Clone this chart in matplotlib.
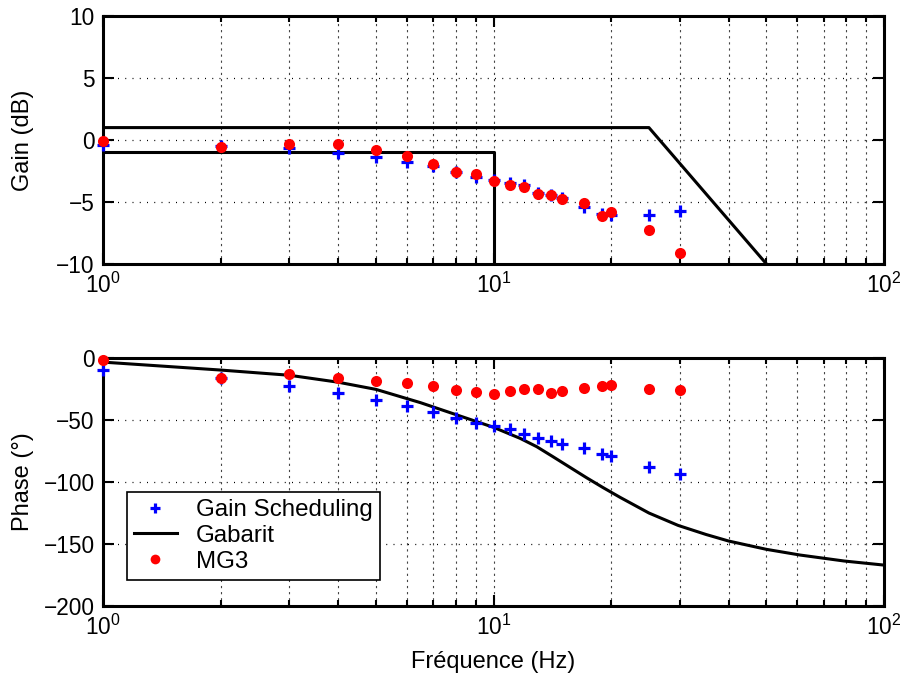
import numpy as np
import matplotlib
matplotlib.use("Agg")
import matplotlib.pyplot as plt
from matplotlib.ticker import LogLocator

plt.rcParams['font.family'] = ['Liberation Sans', 'DejaVu Sans']
plt.rcParams['mathtext.fontset'] = 'custom'
plt.rcParams['mathtext.rm'] = 'Liberation Sans'
plt.rcParams['mathtext.default'] = 'regular'

# ---- data ----
freq = [1, 2, 3, 4, 5, 6, 7, 8, 9, 10, 11, 12, 13, 14, 15, 17, 19, 20, 25, 30]

gain_gs = [-0.4, -0.5, -0.67, -1.08, -1.34, -1.75, -2.1, -2.6, -2.96, -3.2,
           -3.5, -3.65, -4.3, -4.45, -4.7, -5.38, -6.0, -6.05, -6.05, -5.73]
gain_mg3 = [-0.05, -0.59, -0.32, -0.35, -0.81, -1.29, -1.94, -2.58, -2.74, -3.31,
            -3.63, -3.8, -4.35, -4.46, -4.73, -5.11, -6.1, -5.81, -7.28, -9.14]

phase_gs = [-9.7, -16, -22.3, -28.5, -33.9, -38.7, -43.3, -48.1, -52.1, -54.6,
            -57.5, -61.6, -64.8, -67, -69.6, -72.8, -77.7, -79, -87.9, -93.8]
phase_mg3 = [-1.6, -15.9, -12.9, -16.4, -18.3, -19.9, -22.3, -25.8, -27.7, -28.8,
             -26.6, -25, -25, -27.9, -26.6, -23.9, -22.3, -21.5, -24.7, -25.8]

# gabarit (template) for gain
gab_up_f = [1, 25, 50]
gab_up_g = [1, 1, -10]
gab_lo_f = [1, 10, 10]
gab_lo_g = [-1, -1, -10]

# gabarit for phase
gab_ph_f = [1, 2, 3, 4, 5, 6.5, 7.9, 8.9, 10, 11.7, 12.9, 14.2, 15.7, 17.3, 19.1,
            21.1, 25, 29.7, 35, 40, 50, 61, 79, 100]
gab_ph = [-3.3, -9.7, -13.9, -19.5, -25.3, -36, -45, -50.5, -55.9, -64.8, -71.5,
          -79.6, -88.2, -96.5, -104.6, -112.4, -125, -135, -142.3, -147.6, -154.3,
          -158.9, -163.7, -167]

fs_tick = 16.3
fs = 17
lw_ax = 2.2

fig = plt.figure(figsize=(9.03, 6.75), dpi=100)
ax1 = fig.add_axes([0.1141, 0.6089, 0.8649, 0.3674])
ax2 = fig.add_axes([0.1141, 0.1022, 0.8649, 0.3674])


def style(ax):
    ax.set_xscale('log')
    ax.set_xlim(1, 100)
    ax.xaxis.set_major_locator(LogLocator(base=10))
    ax.xaxis.set_minor_locator(LogLocator(base=10, subs=np.arange(2, 10)))
    ax.tick_params(which='both', direction='in', top=True, right=True,
                   labelsize=fs_tick, width=1.5, pad=6)
    ax.tick_params(which='major', length=8)
    ax.tick_params(which='minor', length=4, labelbottom=False)
    ax.grid(True, which='both', axis='x', linestyle=(0, (2, 3.5)), color='#444444',
            linewidth=0.8)
    ax.grid(True, which='major', axis='y', linestyle=(0, (0.8, 5)), color='black',
            linewidth=0.9)
    for s in ax.spines.values():
        s.set_linewidth(lw_ax)


# gain plot
style(ax1)
ax1.plot(freq, gain_gs, linestyle='none', marker='+', color='#0000ff',
         markersize=8, markeredgewidth=2.3, clip_on=False, zorder=3)
ax1.plot(gab_up_f, gab_up_g, color='black', linewidth=lw_ax, zorder=2)
ax1.plot(gab_lo_f, gab_lo_g, color='black', linewidth=lw_ax, zorder=2)
ax1.plot(freq, gain_mg3, linestyle='none', marker='o', color='#ff0000',
         markersize=8, markeredgewidth=0, clip_on=False, zorder=4)
ax1.set_ylim(-10, 10)
ax1.set_yticks([-10, -5, 0, 5, 10])
ax1.set_yticklabels(['\u221210', '\u22125', '0', '5', '10'])
ax1.set_ylabel('Gain (dB)', fontsize=fs)
ax1.yaxis.set_label_coords(-0.088, 0.5)

# phase plot
style(ax2)
ax2.plot(freq, phase_gs, linestyle='none', marker='+', color='#0000ff',
         markersize=8, markeredgewidth=2.3, clip_on=False, zorder=3,
         label='Gain Scheduling')
ax2.plot(gab_ph_f, gab_ph, color='black', linewidth=lw_ax, zorder=2, label='Gabarit')
ax2.plot(freq, phase_mg3, linestyle='none', marker='o', color='#ff0000',
         markersize=8, markeredgewidth=0, clip_on=False, zorder=4, label='MG3')
ax2.set_ylim(-200, 0)
ax2.set_yticks([-200, -150, -100, -50, 0])
ax2.set_yticklabels(['\u2212200', '\u2212150', '\u2212100', '\u221250', '0'])
ax2.set_ylabel('Phase (°)', fontsize=fs)
ax2.yaxis.set_label_coords(-0.088, 0.5)
ax2.set_xlabel('Fréquence (Hz)', fontsize=fs, labelpad=8)

leg = ax2.legend(loc='upper left', bbox_to_anchor=(127 / 903, 1 - 492 / 675),
                 bbox_transform=fig.transFigure, fontsize=17.4, fancybox=False,
                 framealpha=1, edgecolor='black', borderpad=0.3, labelspacing=0.15,
                 handlelength=1.75, handletextpad=0.8, borderaxespad=0)
leg.get_frame().set_linewidth(1.2)
for h in leg.legend_handles:
    if h.get_marker() in ('+', 'o'):
        h.set_markersize(7)

fig.savefig('out.png', dpi=100)
